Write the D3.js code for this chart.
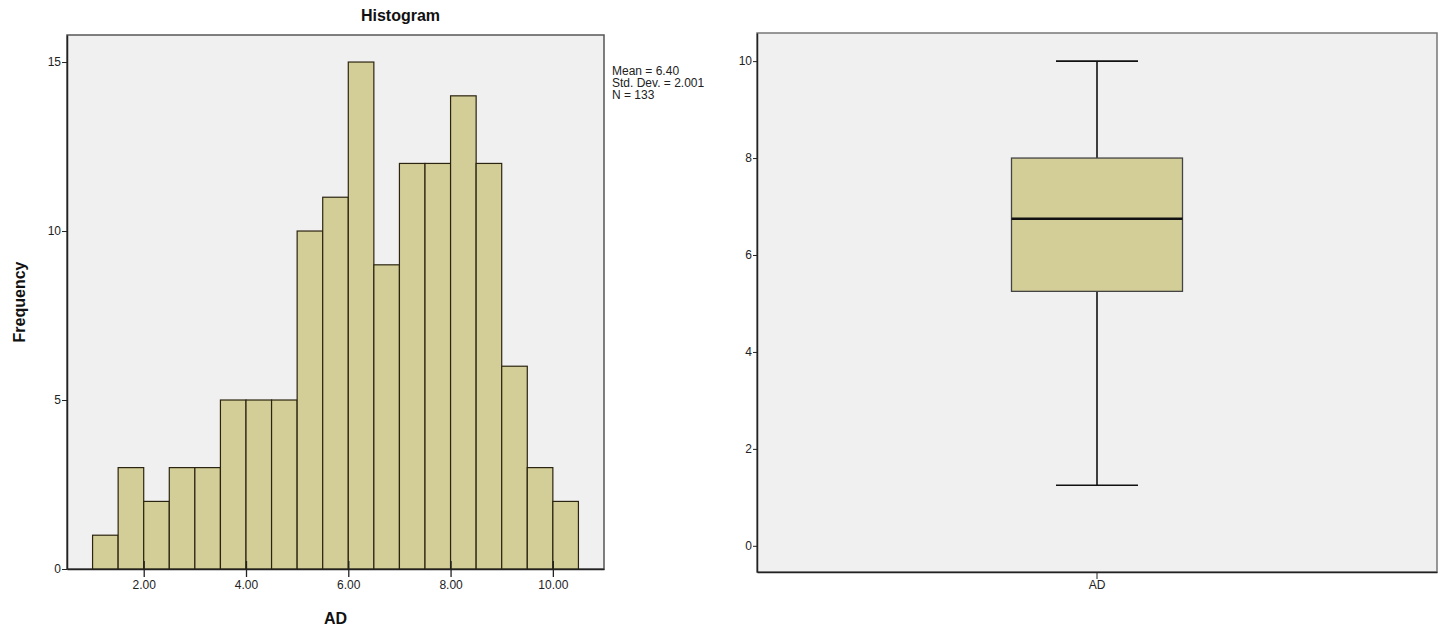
<!DOCTYPE html>
<html>
<head>
<meta charset="utf-8">
<script src="https://cdn.jsdelivr.net/npm/d3@7"></script>
<style>
  body { margin: 0; background: #fff; }
  svg { display: block; font-family: Arial, "Liberation Sans", sans-serif; }
  .axis path, .axis line { stroke: #222; }
  .axis text { fill: #222; font-size: 12px; }
</style>
</head>
<body>
<script>
// histogram bins of AD (width 0.5, starting at 1.0)
const binStarts = [1.0, 1.5, 2.0, 2.5, 3.0, 3.5, 4.0, 4.5, 5.0, 5.5, 6.0, 6.5, 7.0, 7.5, 8.0, 8.5, 9.0, 9.5, 10.0];
const binCounts = [1, 3, 2, 3, 3, 5, 5, 5, 10, 11, 15, 9, 12, 12, 14, 12, 6, 3, 2];
const binWidth = 0.5;
const histXTicks = [2, 4, 6, 8, 10];
const histYTicks = [0, 5, 10, 15];
const statsLines = ['Mean = 6.40', 'Std. Dev. = 2.001', 'N = 133'];

// boxplot summary
const boxCategories = ['AD'];
const boxStats = [{ name: 'AD', min: 1.25, q1: 5.25, median: 6.75, q3: 8.0, max: 10.0 }];
const boxYTicks = [0, 2, 4, 6, 8, 10];

const fillColor = '#d3ce97';
const plotBg = '#f0f0f0';

const svg = d3.select('body').append('svg')
    .attr('width', 1444)
    .attr('height', 633);

// ---------- Histogram ----------
const h = { left: 67, right: 604, top: 35, bottom: 569 };

const hx = d3.scaleLinear().domain([0.5, 11.0]).range([h.left, h.right]);
const hy = d3.scaleLinear().domain([0, 15.8]).range([h.bottom, h.top]);

svg.append('rect')
    .attr('x', h.left).attr('y', h.top)
    .attr('width', h.right - h.left).attr('height', h.bottom - h.top)
    .attr('fill', plotBg)
    .attr('stroke', '#555').attr('stroke-width', 1.5);

svg.append('g').selectAll('rect')
    .data(binStarts.map((s, i) => ({ x0: s, x1: s + binWidth, n: binCounts[i] })))
    .join('rect')
    .attr('x', d => hx(d.x0))
    .attr('width', d => hx(d.x1) - hx(d.x0))
    .attr('y', d => hy(d.n))
    .attr('height', d => hy(0) - hy(d.n))
    .attr('fill', fillColor)
    .attr('stroke', '#2b2410')
    .attr('stroke-width', 1.2);

svg.append('g')
    .attr('class', 'axis')
    .attr('transform', `translate(0,${h.bottom})`)
    .call(d3.axisBottom(hx).tickValues(histXTicks).tickFormat(d3.format('.2f')).tickSize(8).tickSizeOuter(0))
    .call(g => g.select('.domain').attr('stroke-width', 1.5))
    .call(g => g.selectAll('.tick line').attr('y1', -8).attr('stroke-width', 1.3))
    .call(g => g.selectAll('.tick text').attr('font-size', 12.5).attr('dy', '0.75em'));

svg.append('g')
    .attr('class', 'axis')
    .attr('transform', `translate(${h.left},0)`)
    .call(d3.axisLeft(hy).tickValues(histYTicks).tickSize(5).tickSizeOuter(0))
    .call(g => g.select('.domain').attr('stroke-width', 1.5))
    .call(g => g.selectAll('.tick text').attr('x', -6));

svg.append('text')
    .attr('x', (h.left + h.right) / 2 + 65).attr('y', 21)
    .attr('text-anchor', 'middle')
    .attr('font-size', 16).attr('font-weight', 'bold').attr('fill', '#111')
    .text('Histogram');

svg.append('text')
    .attr('x', (h.left + h.right) / 2).attr('y', 624)
    .attr('text-anchor', 'middle')
    .attr('font-size', 16).attr('font-weight', 'bold').attr('fill', '#111')
    .text('AD');

svg.append('text')
    .attr('transform', `translate(25,${(h.top + h.bottom) / 2}) rotate(-90)`)
    .attr('text-anchor', 'middle')
    .attr('font-size', 16).attr('font-weight', 'bold').attr('fill', '#111')
    .text('Frequency');

svg.append('g').selectAll('text')
    .data(statsLines)
    .join('text')
    .attr('x', 612)
    .attr('y', (d, i) => 75 + i * 12)
    .attr('font-size', 12).attr('fill', '#222')
    .text(d => d);

// ---------- Boxplot ----------
const b = { left: 757, right: 1437, top: 33, bottom: 572 };

const by = d3.scaleLinear().domain([-0.54, 10.58]).range([b.bottom, b.top]);
const bx = d3.scaleBand().domain(boxCategories).range([b.left, b.right]);

svg.append('rect')
    .attr('x', b.left).attr('y', b.top)
    .attr('width', b.right - b.left).attr('height', b.bottom - b.top)
    .attr('fill', plotBg)
    .attr('stroke', '#777').attr('stroke-width', 1.5);

svg.append('g')
    .attr('class', 'axis')
    .attr('transform', `translate(${b.left},0)`)
    .call(d3.axisLeft(by).tickValues(boxYTicks).tickSize(4).tickSizeOuter(0))
    .call(g => g.select('.domain').attr('stroke-width', 1.5).attr('stroke', '#555'))
    .call(g => g.selectAll('.tick text').attr('font-size', 10.5).attr('x', -5));

svg.append('g')
    .attr('class', 'axis')
    .attr('transform', `translate(0,${b.bottom})`)
    .call(d3.axisBottom(bx).tickSize(7).tickSizeOuter(0))
    .call(g => g.select('.domain').attr('stroke-width', 1.5).attr('stroke', '#555'))
    .call(g => g.selectAll('.tick text').attr('font-size', 10.5).attr('dy', '0.6em'));

const boxW = 171, capW = 82;
const bg = svg.append('g').selectAll('g')
    .data(boxStats)
    .join('g')
    .attr('transform', d => `translate(${bx(d.name) + bx.bandwidth() / 2},0)`);

// whiskers
bg.append('line')
    .attr('x1', 0).attr('x2', 0)
    .attr('y1', d => by(d.max)).attr('y2', d => by(d.q3))
    .attr('stroke', '#111').attr('stroke-width', 1.6);
bg.append('line')
    .attr('x1', 0).attr('x2', 0)
    .attr('y1', d => by(d.q1)).attr('y2', d => by(d.min))
    .attr('stroke', '#111').attr('stroke-width', 1.6);
bg.selectAll('.cap')
    .data(d => [d.min, d.max])
    .join('line')
    .attr('class', 'cap')
    .attr('x1', -capW / 2).attr('x2', capW / 2)
    .attr('y1', v => by(v)).attr('y2', v => by(v))
    .attr('stroke', '#111').attr('stroke-width', 1.6);

bg.append('rect')
    .attr('x', -boxW / 2).attr('width', boxW)
    .attr('y', d => by(d.q3))
    .attr('height', d => by(d.q1) - by(d.q3))
    .attr('fill', fillColor)
    .attr('stroke', '#444').attr('stroke-width', 1.3);

bg.append('line')
    .attr('x1', -boxW / 2).attr('x2', boxW / 2)
    .attr('y1', d => by(d.median)).attr('y2', d => by(d.median))
    .attr('stroke', '#111').attr('stroke-width', 2.5);
</script>
</body>
</html>
